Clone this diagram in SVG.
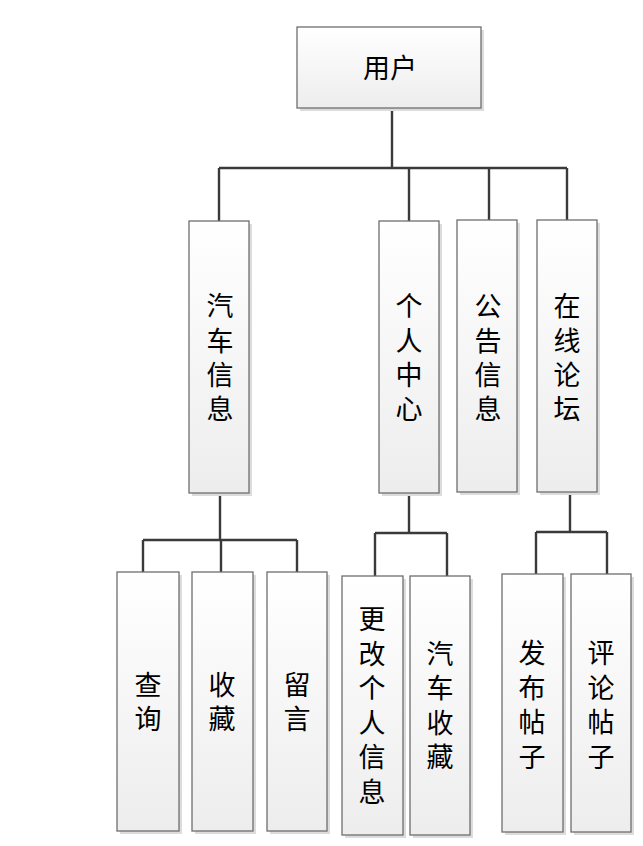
<svg xmlns="http://www.w3.org/2000/svg" width="643" height="846" viewBox="0 0 643 846">
<defs>
<linearGradient id="g" x1="0" y1="0" x2="0" y2="1">
<stop offset="0" stop-color="#ffffff"/>
<stop offset="1" stop-color="#ededed"/>
</linearGradient>
</defs>
<style>
.sh{fill:#dcdcdc}
.bx{fill:url(#g);stroke:#6e6e6e;stroke-width:1.3}
.t{font-family:"Noto Sans CJK SC","Noto Sans",sans-serif;font-size:27px;fill:#000;text-anchor:middle;dominant-baseline:central}
.c{fill:none;stroke:#3a3a3a;stroke-width:2.4}
</style>
<rect width="643" height="846" fill="#fff"/>
<g id="connectors">
<path class="c" d="M392 108V168M219 168H567M219 168V221M409 168V221M489 168V220M567 168V220"/>
<path class="c" d="M220 493V540M143 540H297M143 540V572M221 540V572M297 540V572"/>
<path class="c" d="M409 493V533M375 533H447M375 533V576M447 533V576"/>
<path class="c" d="M570 492V532M536 532H607M536 532V574M607 532V574"/>
</g>
<g id="user">
<rect class="sh" x="300" y="30" width="184" height="81"/>
<rect class="bx" x="297" y="27" width="184" height="81"/>
<text class="t" x="390" y="66">用户</text>
</g>
<g id="carinfo">
<rect class="sh" x="192" y="224" width="60" height="272"/>
<rect class="bx" x="189" y="221" width="60" height="272"/>
<text class="t"><tspan x="220" y="304">汽</tspan><tspan x="220" y="339">车</tspan><tspan x="220" y="373">信</tspan><tspan x="220" y="407">息</tspan></text>
</g>
<g id="personal">
<rect class="sh" x="382" y="224" width="60" height="272"/>
<rect class="bx" x="379" y="221" width="60" height="272"/>
<text class="t"><tspan x="409" y="304">个</tspan><tspan x="409" y="339">人</tspan><tspan x="409" y="373">中</tspan><tspan x="409" y="407">心</tspan></text>
</g>
<g id="notice">
<rect class="sh" x="460" y="223" width="60" height="272"/>
<rect class="bx" x="457" y="220" width="60" height="272"/>
<text class="t"><tspan x="488" y="304">公</tspan><tspan x="488" y="339">告</tspan><tspan x="488" y="373">信</tspan><tspan x="488" y="407">息</tspan></text>
</g>
<g id="forum">
<rect class="sh" x="540" y="223" width="60" height="272"/>
<rect class="bx" x="537" y="220" width="60" height="272"/>
<text class="t"><tspan x="567" y="304">在</tspan><tspan x="567" y="339">线</tspan><tspan x="567" y="373">论</tspan><tspan x="567" y="407">坛</tspan></text>
</g>
<g id="query">
<rect class="sh" x="120" y="575" width="62" height="259"/>
<rect class="bx" x="117" y="572" width="62" height="259"/>
<text class="t"><tspan x="148" y="683">查</tspan><tspan x="148" y="717">询</tspan></text>
</g>
<g id="collect">
<rect class="sh" x="195" y="575" width="61" height="259"/>
<rect class="bx" x="192" y="572" width="61" height="259"/>
<text class="t"><tspan x="222" y="683">收</tspan><tspan x="222" y="717">藏</tspan></text>
</g>
<g id="message">
<rect class="sh" x="270" y="575" width="60" height="259"/>
<rect class="bx" x="267" y="572" width="60" height="259"/>
<text class="t"><tspan x="297" y="683">留</tspan><tspan x="297" y="717">言</tspan></text>
</g>
<g id="editinfo">
<rect class="sh" x="345" y="579" width="61" height="259"/>
<rect class="bx" x="342" y="576" width="61" height="259"/>
<text class="t"><tspan x="372" y="617">更</tspan><tspan x="372" y="652">改</tspan><tspan x="372" y="686">个</tspan><tspan x="372" y="721">人</tspan><tspan x="372" y="755">信</tspan><tspan x="372" y="790">息</tspan></text>
</g>
<g id="carcollect">
<rect class="sh" x="413" y="579" width="60" height="259"/>
<rect class="bx" x="410" y="576" width="60" height="259"/>
<text class="t"><tspan x="440" y="652">汽</tspan><tspan x="440" y="686">车</tspan><tspan x="440" y="721">收</tspan><tspan x="440" y="755">藏</tspan></text>
</g>
<g id="post">
<rect class="sh" x="505" y="577" width="61" height="258"/>
<rect class="bx" x="502" y="574" width="61" height="258"/>
<text class="t"><tspan x="532" y="651">发</tspan><tspan x="532" y="686">布</tspan><tspan x="532" y="720">帖</tspan><tspan x="532" y="755">子</tspan></text>
</g>
<g id="comment">
<rect class="sh" x="574" y="577" width="60" height="258"/>
<rect class="bx" x="571" y="574" width="60" height="258"/>
<text class="t"><tspan x="601" y="651">评</tspan><tspan x="601" y="686">论</tspan><tspan x="601" y="720">帖</tspan><tspan x="601" y="755">子</tspan></text>
</g>
</svg>
